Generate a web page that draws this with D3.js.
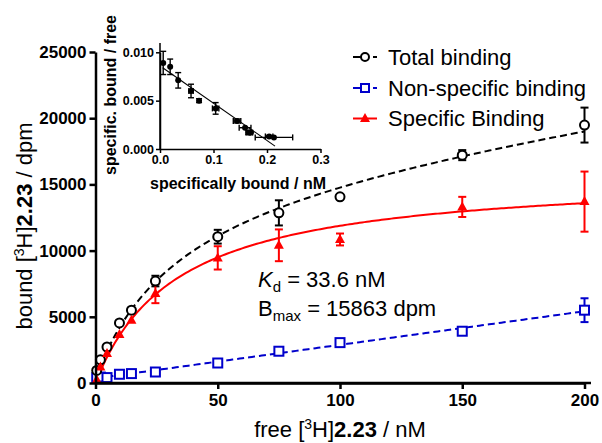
<!DOCTYPE html>
<html><head><meta charset="utf-8">
<script src="https://cdn.jsdelivr.net/npm/d3@7"></script>
<style>
body{margin:0;background:#fff}
svg{display:block}
text{font-family:"Liberation Sans",Arial,Helvetica,sans-serif}
</style>
</head><body>
<svg id="chart" width="602" height="443"></svg>
<script>
// Saturation binding of [3H]2.23: free concentration (nM) vs bound (dpm)
const freeConc       = [0.5, 2, 4.7, 9.8, 14.7, 24.5, 50, 75, 100, 150, 200];
const totalBound     = [950, 1750, 2720, 4535, 5500, 7700, 11050, 12850, 14060, 17210, 19480];
const totalErr       = [0, 0, 0, 0, 0, 400, 520, 950, 0, 380, 1320];
const nonspecBound   = [400, 450, 410, 660, 710, 830, 1510, 2400, 3050, 3910, 5500];
const nonspecErr     = [0, 0, 0, 0, 0, 0, 0, 0, 0, 250, 900];
const specificBound  = [250, 1210, 2220, 3660, 4740, 6760, 9450, 10400, 10840, 13300, 13700];
const specificErr    = [0, 0, 0, 0, 0, 730, 880, 1200, 450, 760, 2270];

// One-site fit parameters
const Kd = 33.6;
const Bmax = 15863;

// Scatchard transform (inset)
const scatX    = [0.006, 0.019, 0.034, 0.058, 0.073, 0.104, 0.144, 0.159, 0.165, 0.170, 0.204, 0.213];
const scatY    = [0.0089, 0.0085, 0.0071, 0.0060, 0.0050, 0.0042, 0.0029, 0.0022, 0.0017, 0.0017, 0.0013, 0.0012];
const scatXErr = [0, 0, 0, 0.004, 0, 0.006, 0.007, 0.011, 0.004, 0.003, 0.007, 0.035];
const scatYErr = [0.0012, 0.0008, 0.0008, 0.0007, 0.0002, 0.0006, 0.0002, 0, 0.0002, 0, 0.0001, 0];
const scatFitX = [0.005, 0.215];
const scatFitY = [0.0084, 0.0003];

const xTicks = [0, 50, 100, 150, 200];
const yTicks = [0, 5000, 10000, 15000, 20000, 25000];
const insetXTicks = [0, 0.1, 0.2, 0.3];
const insetYTicks = [0, 0.005, 0.010];

const legendLabels = ["Total binding", "Non-specific binding", "Specific Binding"];

const BLACK = "#000", BLUE = "#0000cc", RED = "#ff0000";

const svg = d3.select("#chart");

// ---------- main plot ----------
const x = d3.scaleLinear().domain([0, 200]).range([95.5, 584.5]);
const y = d3.scaleLinear().domain([0, 25000]).range([383, 52]);

// linear fit of non-specific binding
const nsMeanX = d3.mean(freeConc), nsMeanY = d3.mean(nonspecBound);
const nsSlope = d3.sum(freeConc, (v, i) => (v - nsMeanX) * (nonspecBound[i] - nsMeanY)) /
                d3.sum(freeConc, v => (v - nsMeanX) ** 2);
const nsInt = nsMeanY - nsSlope * nsMeanX;

const specFit = c => Bmax * c / (Kd + c);
const nsFit = c => nsInt + nsSlope * c;
const totFit = c => specFit(c) + nsFit(c);

const grid = d3.range(0, 200.01, 1);
const line = d3.line().x(d => x(d[0])).y(d => y(d[1]));

svg.append("path").attr("d", line(grid.map(c => [c, nsFit(c)])))
  .attr("fill", "none").attr("stroke", BLUE).attr("stroke-width", 2).attr("stroke-dasharray", "7,4");
svg.append("path").attr("d", line(grid.map(c => [c, totFit(c)])))
  .attr("fill", "none").attr("stroke", BLACK).attr("stroke-width", 2).attr("stroke-dasharray", "7,4");
svg.append("path").attr("d", line(grid.map(c => [c, specFit(c)])))
  .attr("fill", "none").attr("stroke", RED).attr("stroke-width", 2);

// error bars
function errBars(vals, errs, color) {
  const g = svg.append("g").attr("stroke", color).attr("stroke-width", 2).attr("fill", "none");
  freeConc.forEach((c, i) => {
    if (!errs[i]) return;
    const cx = x(c), y1 = y(vals[i] + errs[i]), y2 = y(vals[i] - errs[i]);
    g.append("line").attr("x1", cx).attr("x2", cx).attr("y1", y1).attr("y2", y2);
    g.append("line").attr("x1", cx - 4).attr("x2", cx + 4).attr("y1", y1).attr("y2", y1);
    g.append("line").attr("x1", cx - 4).attr("x2", cx + 4).attr("y1", y2).attr("y2", y2);
  });
}
errBars(nonspecBound, nonspecErr, BLUE);
errBars(totalBound, totalErr, BLACK);
errBars(specificBound, specificErr, RED);

// markers
const triPath = "M0,-5.5L5,3.5L-5,3.5Z";
svg.append("g").selectAll("rect").data(freeConc).join("rect")
  .attr("x", d => x(d) - 4.5).attr("y", (d, i) => y(nonspecBound[i]) - 4.5)
  .attr("width", 9).attr("height", 9)
  .attr("fill", "#fff").attr("stroke", BLUE).attr("stroke-width", 2);
svg.append("g").selectAll("circle").data(freeConc).join("circle")
  .attr("cx", d => x(d)).attr("cy", (d, i) => y(totalBound[i])).attr("r", 4.5)
  .attr("fill", "#fff").attr("stroke", BLACK).attr("stroke-width", 2);
svg.append("g").selectAll("path").data(freeConc).join("path")
  .attr("transform", (d, i) => `translate(${x(d)},${y(specificBound[i])})`)
  .attr("d", triPath).attr("fill", RED);

// axes
const xAxis = svg.append("g").attr("transform", "translate(0,383)")
  .call(d3.axisBottom(x).tickValues(xTicks).tickSize(6).tickSizeOuter(0).tickPadding(5));
const yAxis = svg.append("g").attr("transform", "translate(95.5,0)")
  .call(d3.axisLeft(y).tickValues(yTicks).tickSize(6).tickSizeOuter(0).tickPadding(3).tickFormat(d3.format("d")));
[xAxis, yAxis].forEach(g => {
  g.selectAll("path,line").attr("stroke", BLACK).attr("stroke-width", 2.5);
  g.selectAll("text").attr("font-size", 17).attr("font-weight", "bold")
    .attr("font-family", '"Liberation Sans",Arial,sans-serif').attr("fill", BLACK);
});
// extend x axis baseline slightly past last tick
svg.append("line").attr("x1", 95.5).attr("x2", 591).attr("y1", 383).attr("y2", 383)
  .attr("stroke", BLACK).attr("stroke-width", 2.5);

// axis titles
const xt = svg.append("text").attr("x", 340).attr("y", 437).attr("text-anchor", "middle").attr("font-size", 22);
xt.append("tspan").text("free [");
xt.append("tspan").attr("font-size", 14).attr("dy", -8).text("3");
xt.append("tspan").attr("dy", 8).text("H]");
xt.append("tspan").attr("font-weight", "bold").text("2.23");
xt.append("tspan").text(" / nM");

const yt = svg.append("text").attr("transform", "translate(32,226) rotate(-90)").attr("text-anchor", "middle").attr("font-size", 22);
yt.append("tspan").text("bound [");
yt.append("tspan").attr("font-size", 14).attr("dy", -8).text("3");
yt.append("tspan").attr("dy", 8).text("H]");
yt.append("tspan").attr("font-weight", "bold").text("2.23");
yt.append("tspan").text(" / dpm");

// fit parameters
const kd = svg.append("text").attr("x", 258).attr("y", 287).attr("font-size", 22);
kd.append("tspan").attr("font-style", "italic").text("K");
kd.append("tspan").attr("font-size", 15).attr("dy", 5).text("d");
kd.append("tspan").attr("dy", -5).text(" = " + Kd + " nM");
const bm = svg.append("text").attr("x", 258).attr("y", 316).attr("font-size", 22);
bm.append("tspan").text("B");
bm.append("tspan").attr("font-size", 15).attr("dy", 5).text("max");
bm.append("tspan").attr("dy", -5).text(" = " + Bmax + " dpm");

// legend
const legY = [57, 88, 118.5];
const lg = svg.append("g");
legendLabels.forEach((t, i) => {
  lg.append("text").attr("x", 388).attr("y", legY[i] + 7.5).attr("font-size", 22).text(t);
});
// total
lg.append("line").attr("x1", 353).attr("x2", 362).attr("y1", legY[0]).attr("y2", legY[0]).attr("stroke", BLACK).attr("stroke-width", 2);
lg.append("line").attr("x1", 373).attr("x2", 377).attr("y1", legY[0]).attr("y2", legY[0]).attr("stroke", BLACK).attr("stroke-width", 2);
lg.append("circle").attr("cx", 365).attr("cy", legY[0]).attr("r", 4).attr("fill", "#fff").attr("stroke", BLACK).attr("stroke-width", 2);
// non-specific
lg.append("line").attr("x1", 353).attr("x2", 362).attr("y1", legY[1]).attr("y2", legY[1]).attr("stroke", BLUE).attr("stroke-width", 2);
lg.append("line").attr("x1", 373).attr("x2", 377).attr("y1", legY[1]).attr("y2", legY[1]).attr("stroke", BLUE).attr("stroke-width", 2);
lg.append("rect").attr("x", 361).attr("y", legY[1] - 4).attr("width", 8).attr("height", 8).attr("fill", "#fff").attr("stroke", BLUE).attr("stroke-width", 2);
// specific
lg.append("line").attr("x1", 353).attr("x2", 377).attr("y1", legY[2]).attr("y2", legY[2]).attr("stroke", RED).attr("stroke-width", 2);
lg.append("path").attr("transform", `translate(365,${legY[2]})`).attr("d", triPath).attr("fill", RED);

// ---------- inset: Scatchard plot ----------
const ix = d3.scaleLinear().domain([0, 0.3]).range([160, 320.5]);
const iy = d3.scaleLinear().domain([0, 0.010]).range([149, 52.3]);

svg.append("line").attr("x1", ix(scatFitX[0])).attr("y1", iy(scatFitY[0]))
  .attr("x2", ix(scatFitX[1])).attr("y2", iy(scatFitY[1]))
  .attr("stroke", BLACK).attr("stroke-width", 1.1);

const ie = svg.append("g").attr("stroke", BLACK).attr("stroke-width", 1.4);
scatX.forEach((v, i) => {
  const cx = ix(v), cy = iy(scatY[i]);
  if (scatYErr[i]) {
    const a = iy(scatY[i] + scatYErr[i]), b = iy(scatY[i] - scatYErr[i]);
    ie.append("line").attr("x1", cx).attr("x2", cx).attr("y1", a).attr("y2", b);
    ie.append("line").attr("x1", cx - 3).attr("x2", cx + 3).attr("y1", a).attr("y2", a);
    ie.append("line").attr("x1", cx - 3).attr("x2", cx + 3).attr("y1", b).attr("y2", b);
  }
  if (scatXErr[i]) {
    const a = ix(v - scatXErr[i]), b = ix(v + scatXErr[i]);
    ie.append("line").attr("x1", a).attr("x2", b).attr("y1", cy).attr("y2", cy);
    ie.append("line").attr("x1", a).attr("x2", a).attr("y1", cy - 3).attr("y2", cy + 3);
    ie.append("line").attr("x1", b).attr("x2", b).attr("y1", cy - 3).attr("y2", cy + 3);
  }
});
svg.append("g").selectAll("circle").data(scatX).join("circle")
  .attr("cx", d => ix(d)).attr("cy", (d, i) => iy(scatY[i])).attr("r", 3).attr("fill", BLACK);

const ixa = svg.append("g").attr("transform", "translate(0,149)")
  .call(d3.axisBottom(ix).tickValues(insetXTicks).tickSize(4).tickSizeOuter(0).tickPadding(2).tickFormat(d3.format(".1f")));
const iya = svg.append("g").attr("transform", "translate(160,0)")
  .call(d3.axisLeft(iy).tickValues(insetYTicks).tickSize(4).tickSizeOuter(0).tickPadding(2).tickFormat(d3.format(".3f")));
[ixa, iya].forEach(g => {
  g.selectAll("path,line").attr("stroke", BLACK).attr("stroke-width", 1.5);
  g.selectAll("text").attr("font-size", 12.5).attr("font-weight", "bold")
    .attr("font-family", '"Liberation Sans",Arial,sans-serif').attr("fill", BLACK);
});
// inset y axis extends a little above top tick
svg.append("line").attr("x1", 160).attr("x2", 160).attr("y1", 43).attr("y2", 149).attr("stroke", BLACK).attr("stroke-width", 1.5);

svg.append("text").attr("x", 238).attr("y", 189).attr("text-anchor", "middle")
  .attr("font-size", 16).attr("font-weight", "bold").text("specifically bound / nM");
svg.append("text").attr("transform", "translate(116,95) rotate(-90)").attr("text-anchor", "middle")
  .attr("font-size", 16).attr("font-weight", "bold").text("specific. bound / free");
</script>
</body></html>
